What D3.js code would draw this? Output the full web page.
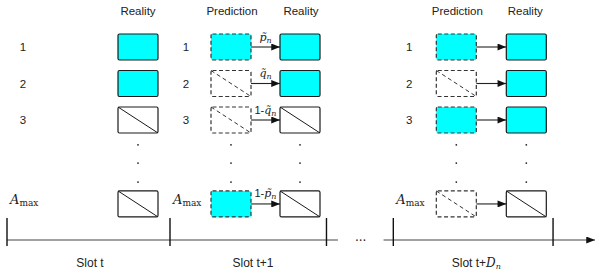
<!DOCTYPE html>
<html>
<head>
<meta charset="utf-8">
<script src="https://cdn.jsdelivr.net/npm/d3@7"></script>
<style>
body { margin: 0; background: #fff; }
</style>
</head>
<body>
<svg></svg>
<script>
var width = 595;
var height = 273;

// data
var rowLabels = ['1', '2', '3', 'Amax'];
var slotNames = ['Slot t', 'Slot t+1', 'Slot t+Dn'];
var columnTitles = ['Prediction', 'Reality'];
var realitySlotT = [true, true, false, false];
var predictionSlotT1 = [true, false, false, true];
var realitySlotT1 = [true, true, false, false];
var arrowPrefixT1 = ['', '', '1-', '1-'];
var arrowSymbolT1 = ['p', 'q', 'q', 'p'];
var predictionSlotTD = [true, false, true, false];
var realitySlotTD = [true, true, true, false];

// layout
var slotPos = [0, 1, 2.37];
var rowPos = [0, 1, 2, 4.3];
var dotPos = [2.68, 3.18, 3.7];
var tickPos = [0, 1, 1.96, 2.37, 3.35];
var boxW = 40, boxH = 26;
var lineY = 240;

var svg = d3.select('svg')
	.attr('width', width)
	.attr('height', height);

var x = d3.scaleLinear()
	.domain([0, 1])
	.range([7, 170]);

var y = d3.scaleLinear()
	.domain([0, 1])
	.range([47, 83.5]);

var sans = 'Liberation Sans, Arial, sans-serif';
var serif = 'DejaVu Serif, serif';

var defs = svg.append('defs');
defs.append('marker')
	.attr('id', 'head')
	.attr('viewBox', '0 0 10 8')
	.attr('refX', 10)
	.attr('refY', 4)
	.attr('markerWidth', 9)
	.attr('markerHeight', 7)
	.attr('markerUnits', 'userSpaceOnUse')
	.attr('orient', 'auto')
	.append('path')
	.attr('d', 'M0,0L10,4L0,8Z')
	.attr('fill', '#111');

function drawBox(x0, row, filled, dashed) {
	var y0 = y(rowPos[row]) - boxH / 2;
	var g = svg.append('g');
	g.append('rect')
		.attr('x', x0)
		.attr('y', y0)
		.attr('width', boxW)
		.attr('height', boxH)
		.attr('rx', 1.5)
		.attr('fill', filled ? '#00ffff' : '#fff')
		.attr('stroke', dashed ? '#333' : '#1a1a1a')
		.attr('stroke-width', 1.2)
		.attr('stroke-dasharray', dashed ? '4,2.5' : null);
	if (!filled) {
		g.append('line')
			.attr('x1', x0)
			.attr('y1', y0)
			.attr('x2', x0 + boxW)
			.attr('y2', y0 + boxH)
			.attr('stroke', dashed ? '#333' : '#1a1a1a')
			.attr('stroke-width', 1)
			.attr('stroke-dasharray', dashed ? '4,3' : null);
	}
}

function rowLabel(sx, i) {
	if (rowLabels[i] === 'Amax') {
		var t = svg.append('text')
			.attr('x', sx + 3)
			.attr('y', y(rowPos[i]) + 0.5)
			.attr('font-family', serif)
			.attr('fill', '#222');
		t.append('tspan').attr('font-style', 'italic').attr('font-size', 13).text('A');
		t.append('tspan').attr('font-size', 9).attr('dy', 2).text('max');
	} else {
		svg.append('text')
			.attr('x', sx + 16)
			.attr('y', y(rowPos[i]) + 4)
			.attr('text-anchor', 'middle')
			.attr('font-family', sans)
			.attr('font-size', 11.5)
			.attr('fill', '#222')
			.text(rowLabels[i]);
	}
}

function header(cx, label) {
	svg.append('text')
		.attr('x', cx)
		.attr('y', 15)
		.attr('text-anchor', 'middle')
		.attr('font-family', sans)
		.attr('font-size', 11.5)
		.attr('fill', '#222')
		.text(label);
}

function dots(cx) {
	svg.selectAll(null)
		.data(dotPos)
		.enter()
		.append('circle')
		.attr('cx', cx)
		.attr('cy', function(d) { return y(d); })
		.attr('r', 0.9)
		.attr('fill', '#222');
}

function arrow(x1, x2, row) {
	svg.append('line')
		.attr('x1', x1)
		.attr('x2', x2)
		.attr('y1', y(rowPos[row]))
		.attr('y2', y(rowPos[row]))
		.attr('stroke', '#222')
		.attr('stroke-width', 1.1)
		.attr('marker-end', 'url(#head)');
}

// slot t
var s0 = x(slotPos[0]);
header(s0 + 131, columnTitles[1]);
rowLabels.forEach(function(d, i) {
	rowLabel(s0, i);
	drawBox(s0 + 111, i, realitySlotT[i], false);
});
dots(s0 + 131);

// slot t+1
var s1 = x(slotPos[1]);
header(s1 + 62, columnTitles[0]);
header(s1 + 131, columnTitles[1]);
rowLabels.forEach(function(d, i) {
	rowLabel(s1, i);
	drawBox(s1 + 41, i, predictionSlotT1[i], true);
	drawBox(s1 + 110, i, realitySlotT1[i], false);
	arrow(s1 + 41 + boxW, s1 + 110, i);
	var t = svg.append('text')
		.attr('x', s1 + 95.5)
		.attr('y', y(rowPos[i]) - 6.5)
		.attr('text-anchor', 'middle')
		.attr('fill', '#222');
	if (arrowPrefixT1[i]) {
		t.append('tspan').attr('font-family', sans).attr('font-size', 11).text(arrowPrefixT1[i]);
	}
	t.append('tspan').attr('font-family', serif).attr('font-style', 'italic').attr('font-size', 11)
		.text(arrowSymbolT1[i] + '\u0303');
	t.append('tspan').attr('font-family', serif).attr('font-style', 'italic').attr('font-size', 8)
		.attr('dy', 2).text('n');
});
dots(s1 + 61);
dots(s1 + 130);

// slot t+Dn
var s2 = x(slotPos[2]);
header(s2 + 64, columnTitles[0]);
header(s2 + 132, columnTitles[1]);
rowLabels.forEach(function(d, i) {
	rowLabel(s2, i);
	drawBox(s2 + 43, i, predictionSlotTD[i], true);
	drawBox(s2 + 113, i, realitySlotTD[i], false);
	arrow(s2 + 43 + boxW, s2 + 113, i);
});
dots(s2 + 63);
dots(s2 + 133);

// time line
svg.append('line')
	.attr('x1', x(0))
	.attr('x2', x(2.03))
	.attr('y1', lineY)
	.attr('y2', lineY)
	.attr('stroke', '#444')
	.attr('stroke-width', 1.2);

svg.append('line')
	.attr('x1', x(2.31))
	.attr('x2', width)
	.attr('y1', lineY)
	.attr('y2', lineY)
	.attr('stroke', '#444')
	.attr('stroke-width', 1.2)
	.attr('marker-end', 'url(#head)');

svg.append('text')
	.attr('x', x(2.17))
	.attr('y', lineY + 1)
	.attr('text-anchor', 'middle')
	.attr('font-family', serif)
	.attr('font-size', 12)
	.attr('fill', '#222')
	.text('...');

svg.selectAll(null)
	.data(tickPos)
	.enter()
	.append('line')
	.attr('x1', function(d) { return x(d); })
	.attr('x2', function(d) { return x(d); })
	.attr('y1', lineY - 22)
	.attr('y2', lineY + 6)
	.attr('stroke', '#111')
	.attr('stroke-width', 1.4);

slotNames.forEach(function(name, i) {
	var t = svg.append('text')
		.attr('x', x(slotPos[i]) + 83)
		.attr('y', 267)
		.attr('text-anchor', 'middle')
		.attr('font-family', sans)
		.attr('font-size', 12)
		.attr('fill', '#222');
	if (name.slice(-2) === 'Dn') {
		t.append('tspan').text(name.slice(0, -2));
		t.append('tspan').attr('font-family', serif).attr('font-style', 'italic').text('D');
		t.append('tspan').attr('font-family', serif).attr('font-style', 'italic')
			.attr('font-size', 8).attr('dy', 2).text('n');
	} else {
		t.text(name);
	}
});
</script>
</body>
</html>
